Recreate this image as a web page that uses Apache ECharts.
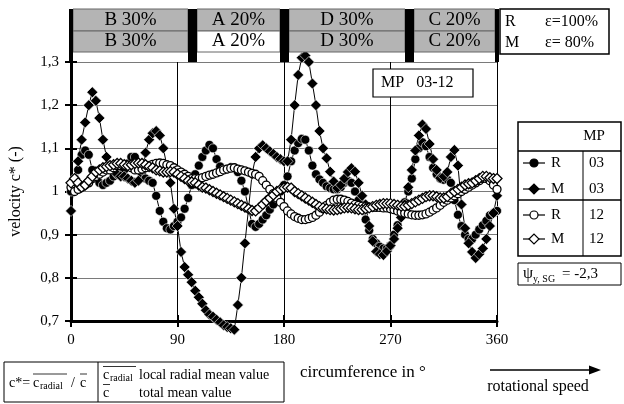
<!DOCTYPE html>
<html>
<head>
<meta charset="utf-8">
<script src="https://cdn.jsdelivr.net/npm/echarts@6/dist/echarts.min.js"></script>
<style>
  html, body { margin: 0; padding: 0; background: #fff; }
  #chart { width: 624px; height: 404px; }
</style>
</head>
<body>
<div id="chart"></div>
<script>
// Measurement positions around the circumference (degrees)
const angles = [
  0, 3, 6, 9, 12, 15, 18, 21, 24, 27,
  30, 33, 36, 39, 42, 45, 48, 51, 54, 57,
  60, 63, 66, 69, 72, 75, 78, 81, 84, 87,
  90, 93, 96, 99, 102, 105, 108, 111, 114, 117,
  120, 123, 126, 129, 132, 135, 138, 141, 144, 147,
  150, 153, 156, 159, 162, 165, 168, 171, 174, 177,
  180, 183, 186, 189, 192, 195, 198, 201, 204, 207,
  210, 213, 216, 219, 222, 225, 228, 231, 234, 237,
  240, 243, 246, 249, 252, 255, 258, 261, 264, 267,
  270, 273, 276, 279, 282, 285, 288, 291, 294, 297,
  300, 303, 306, 309, 312, 315, 318, 321, 324, 327,
  330, 333, 336, 339, 342, 345, 348, 351, 354, 357,
  360
];

// MP 03, R (eps = 100 %)
const r03 = [
  1.0, 1.03, 1.05, 1.085, 1.095, 1.085, 1.05, 1.03, 1.02, 1.015,
  1.02, 1.025, 1.035, 1.04, 1.045, 1.05, 1.065, 1.08, 1.08, 1.06,
  1.04, 1.03, 1.025, 1.02, 0.99, 0.955, 0.93, 0.915, 0.912, 0.92,
  0.93, 0.94, 0.96, 0.985, 1.015, 1.04, 1.06, 1.08, 1.095, 1.108,
  1.1, 1.075, 1.058, 1.05, 1.052, 1.056, 1.055, 1.045, 1.025, 1.0,
  0.96, 0.925, 0.918, 0.925, 0.935, 0.945, 0.958, 0.97, 0.985, 1.0,
  1.015, 1.035, 1.07, 1.095, 1.112, 1.122, 1.12, 1.095, 1.06, 1.04,
  1.028, 1.02, 1.012, 1.008, 1.005, 1.005, 1.01, 1.02, 1.025, 1.02,
  1.0, 0.98, 0.96, 0.935, 0.91, 0.89, 0.88, 0.872, 0.868, 0.868,
  0.875, 0.9, 0.922, 0.945, 0.975, 1.0, 1.03, 1.075, 1.1, 1.114,
  1.105, 1.08, 1.055, 1.04, 1.03, 1.027, 1.028, 1.02, 0.98, 0.946,
  0.92, 0.9, 0.89, 0.89, 0.9, 0.912, 0.922, 0.932, 0.945, 0.95,
  0.955
];

// MP 03, M (eps = 80 %)
const m03 = [
  0.955, 1.02, 1.07, 1.12, 1.16, 1.2, 1.23, 1.21, 1.17, 1.12,
  1.08, 1.06, 1.05, 1.04, 1.035, 1.035, 1.03, 1.025, 1.02, 1.025,
  1.05, 1.09, 1.12, 1.135, 1.14, 1.13, 1.1, 1.06, 1.02, 0.96,
  0.92, 0.86, 0.825, 0.807, 0.79, 0.77, 0.755, 0.74, 0.725, 0.715,
  0.71, 0.703, 0.697, 0.69, 0.686, 0.683, 0.68, 0.737, 0.8, 0.88,
  0.96, 1.04, 1.08, 1.1, 1.107, 1.1, 1.093, 1.087, 1.08, 1.075,
  1.07, 1.07, 1.12, 1.2, 1.27, 1.31, 1.315, 1.3, 1.25, 1.2,
  1.14, 1.1, 1.077, 1.046, 1.023, 1.008, 1.015, 1.03, 1.045, 1.054,
  1.046, 1.02, 0.99, 0.97, 0.92, 0.885, 0.861, 0.855, 0.853, 0.862,
  0.875, 0.89, 0.915, 0.94, 0.97, 1.01, 1.05, 1.095, 1.13, 1.155,
  1.145, 1.11, 1.075, 1.05, 1.031, 1.035, 1.045, 1.08, 1.096, 1.06,
  0.97, 0.915, 0.88, 0.86, 0.846, 0.855, 0.868, 0.89, 0.92, 0.95,
  0.99
];

// MP 12, R (eps = 100 %)
const r12 = [
  1.01, 1.0, 1.005, 1.01, 1.015, 1.02, 1.03, 1.035, 1.04, 1.045,
  1.05, 1.05, 1.055, 1.06, 1.06, 1.06, 1.058, 1.055, 1.05, 1.05,
  1.052, 1.055, 1.06, 1.063, 1.065, 1.066, 1.065, 1.062, 1.06, 1.055,
  1.05, 1.045, 1.04, 1.035, 1.03, 1.03, 1.03, 1.032, 1.035, 1.038,
  1.04, 1.043, 1.046, 1.05, 1.052, 1.054, 1.055, 1.052, 1.05, 1.048,
  1.045, 1.042, 1.04, 1.035, 1.025, 1.015, 1.005, 0.995, 0.985, 0.975,
  0.965, 0.955, 0.948, 0.942, 0.938, 0.935, 0.935, 0.937, 0.94, 0.945,
  0.952, 0.96, 0.968, 0.975, 0.98, 0.982, 0.982, 0.98, 0.977, 0.973,
  0.97, 0.968, 0.966, 0.965, 0.964, 0.963, 0.963, 0.963, 0.962, 0.962,
  0.96, 0.958, 0.955, 0.952, 0.95, 0.948, 0.946, 0.945, 0.945, 0.946,
  0.948, 0.952, 0.957, 0.962, 0.968, 0.975, 0.98, 0.985, 0.99, 0.995,
  1.0, 1.005, 1.01, 1.015, 1.02, 1.025, 1.03, 1.03, 1.025, 1.015,
  1.005
];

// MP 12, M (eps = 80 %)
const m12 = [
  1.02, 1.03, 1.02, 1.01, 1.015, 1.025, 1.035, 1.045, 1.05, 1.055,
  1.058, 1.06, 1.062, 1.065, 1.065, 1.062, 1.06, 1.062, 1.065, 1.066,
  1.065, 1.062, 1.058, 1.055, 1.05, 1.048, 1.045, 1.045, 1.046, 1.045,
  1.04, 1.035, 1.03, 1.025, 1.022, 1.02, 1.015, 1.01, 1.008, 1.004,
  1.0, 0.996, 0.992, 0.988, 0.984, 0.98, 0.976, 0.972, 0.968, 0.964,
  0.96, 0.956, 0.955, 0.962, 0.97, 0.978, 0.985, 0.992, 1.0, 1.005,
  1.008, 1.01, 1.008, 1.0, 0.995, 0.99, 0.985, 0.98, 0.975, 0.97,
  0.965, 0.962, 0.96, 0.958, 0.957, 0.958, 0.96, 0.962, 0.963, 0.962,
  0.96, 0.958, 0.958, 0.96, 0.962, 0.965, 0.968, 0.97, 0.972, 0.972,
  0.972, 0.97, 0.968, 0.966, 0.966, 0.968, 0.972, 0.976, 0.98, 0.984,
  0.988, 0.99, 0.99, 0.988, 0.985, 0.985, 0.988, 0.995, 1.0, 1.005,
  1.01, 1.015, 1.018, 1.02, 1.025, 1.03, 1.035, 1.035, 1.032, 1.03,
  1.03
];

// Blade sector table above the plot
const sectorRow1 = ['B 30%', 'A 20%', 'D 30%', 'C 20%'];
const sectorRow2 = ['B 30%', 'A 20%', 'D 30%', 'C 20%'];

const SERIF = '"Liberation Serif", "Times New Roman", serif';
const chart = echarts.init(document.getElementById('chart'), null, { renderer: 'canvas' });

function fmtTick(v) {
  const r = Math.round(v * 10) / 10;
  return r === 1 ? '1' : r.toFixed(1).replace('.', ',');
}

function makeSeries(name, values, symbol, size, filled) {
  return {
    name: name,
    type: 'line',
    data: angles.map((a, i) => [a, values[i]]),
    symbol: symbol,
    symbolSize: size,
    showSymbol: true,
    showAllSymbol: true,
    clip: false,
    animation: false,
    lineStyle: { color: '#000', width: 1 },
    itemStyle: filled
      ? { color: '#000', borderColor: '#fff', borderWidth: 0.6 }
      : { color: '#fff', borderColor: '#000', borderWidth: 1.3 },
    emphasis: { disabled: true }
  };
}

// ----- decorative graphics -----
const G = [];
function rect(x, y, w, h, fill, stroke, lw) {
  G.push({ type: 'rect', shape: { x: x, y: y, width: w, height: h },
    style: { fill: fill || 'none', stroke: stroke || null, lineWidth: lw || 0 }, z: 100 });
}
function line(x1, y1, x2, y2, lw, color) {
  G.push({ type: 'line', shape: { x1: x1, y1: y1, x2: x2, y2: y2 },
    style: { stroke: color || '#000', lineWidth: lw || 1 }, z: 101 });
}
function text(str, x, y, size, align, valign) {
  G.push({ type: 'text', x: x, y: y, z: 102,
    style: { text: str, font: size + 'px ' + SERIF, fill: '#000',
      textAlign: align || 'left', textVerticalAlign: valign || 'middle' } });
}

// sector table
const cells = [[73, 188], [197, 280], [289, 405], [414, 495]];
cells.forEach((c, i) => {
  rect(c[0], 9, c[1] - c[0], 22, '#b4b4b4', '#666', 1);
  rect(c[0], 31, c[1] - c[0], 21, i === 1 ? '#fff' : '#b4b4b4', '#666', 1);
  text(sectorRow1[i], (c[0] + c[1]) / 2, 20.5, 19, 'center');
  text(sectorRow2[i], (c[0] + c[1]) / 2, 41.5, 19, 'center');
});
// sector separators
[[69, 4], [188, 9], [280, 9], [405, 9], [495, 4]].forEach(b => rect(b[0], 9, b[1], 53, '#000'));

// efficiency box
rect(500, 9, 109, 45, '#fff', '#000', 1.5);
text('R', 505, 22, 16);
text('\u03b5=100%', 545, 22, 16);
text('M', 505, 43, 16);
text('\u03b5= 80%', 545, 43, 16);

// measuring point box
rect(373, 69, 100, 28, '#fff', '#000', 1.2);
text('MP   03-12', 381, 83, 16);

// legend table
rect(518, 122, 103, 134, '#fff', '#000', 1.5);
line(518, 151, 621, 151, 1.5);
line(518, 200, 621, 200, 1.5);
line(583, 151, 583, 256, 1);
text('MP', 594, 136, 15, 'center');
const legendRows = [
  { y: 163, kind: 'circle', filled: true, label: 'R', mp: '03' },
  { y: 189, kind: 'diamond', filled: true, label: 'M', mp: '03' },
  { y: 215, kind: 'circle', filled: false, label: 'R', mp: '12' },
  { y: 239, kind: 'diamond', filled: false, label: 'M', mp: '12' }
];
legendRows.forEach(r => {
  line(523, r.y, 545, r.y, 1.2);
  const fill = r.filled ? '#000' : '#fff';
  if (r.kind === 'circle') {
    G.push({ type: 'circle', shape: { cx: 534, cy: r.y, r: 4 },
      style: { fill: fill, stroke: '#000', lineWidth: 1.2 }, z: 103 });
  } else {
    G.push({ type: 'polygon', shape: { points: [[529, r.y], [534, r.y - 5], [539, r.y], [534, r.y + 5]] },
      style: { fill: fill, stroke: '#000', lineWidth: 1.2 }, z: 103 });
  }
  text(r.label, 551, r.y, 15);
  text(r.mp, 589, r.y, 15);
});

// swirl coefficient box
rect(518, 263, 103, 22, '#fff', '#000', 1);
text('\u03c8', 523, 274, 16);
text('y, SG', 533, 279, 10);
text('= -2,3', 562, 274, 15);

// definition box
rect(4, 362, 280, 40, '#fff', '#000', 1);
line(98, 362, 98, 402, 1);
text('c*=', 9, 383, 14);
text('c', 33, 383, 14);
text('radial', 40, 386, 10);
line(33, 374, 67, 374, 0.8);
text('/', 71, 383, 14);
text('c', 80, 383, 14);
line(80, 374, 87, 374, 0.8);
text('c', 103, 375, 14);
text('radial', 110, 378, 10);
line(103, 366.5, 136, 366.5, 0.8);
text('local radial mean value', 139, 375, 14);
text('c', 103, 393, 14);
line(103, 384.5, 110, 384.5, 0.8);
text('total mean value', 139, 393, 14);

// axis title and rotation direction
text('circumference in \u00b0', 300, 373, 17);
line(490, 370, 592, 370, 1.5);
G.push({ type: 'polygon', shape: { points: [[589, 365.5], [601, 370], [589, 374.5]] },
  style: { fill: '#000' }, z: 103 });
text('rotational speed', 538, 387, 16, 'center');

const option = {
  animation: false,
  backgroundColor: '#fff',
  grid: { left: 71, right: 127, top: 62, bottom: 83, containLabel: false },
  xAxis: [
    {
      type: 'value', min: 0, max: 360, interval: 90,
      axisLine: { show: true, onZero: false, lineStyle: { color: '#000', width: 3 } },
      axisTick: { show: true, length: 6, lineStyle: { color: '#000', width: 2 } },
      axisLabel: { color: '#000', fontFamily: SERIF, fontSize: 15, margin: 12 },
      splitLine: { show: true, lineStyle: { color: '#000', width: 1 } }
    },
    {
      type: 'value', min: 0, max: 360, interval: 90, position: 'bottom',
      axisLine: { show: false },
      axisTick: { show: true, inside: true, length: 6, lineStyle: { color: '#000', width: 2 } },
      axisLabel: { show: false },
      splitLine: { show: false }
    }
  ],
  yAxis: [
    {
      type: 'value', min: 0.7, max: 1.3, interval: 0.1,
      name: 'velocity c* (-)', nameLocation: 'middle', nameGap: 47, nameRotate: 90,
      nameTextStyle: { color: '#000', fontFamily: SERIF, fontSize: 16 },
      axisLine: { show: true, onZero: false, lineStyle: { color: '#000', width: 3 } },
      axisTick: { show: true, length: 6, lineStyle: { color: '#000', width: 2 } },
      axisLabel: { color: '#000', fontFamily: SERIF, fontSize: 15, margin: 12, formatter: fmtTick },
      splitLine: { show: true, lineStyle: { color: '#7a7a7a', width: 1 } }
    },
    {
      type: 'value', min: 0.7, max: 1.3, interval: 0.1, position: 'left',
      axisLine: { show: false },
      axisTick: { show: true, inside: true, length: 6, lineStyle: { color: '#000', width: 2 } },
      axisLabel: { show: false },
      splitLine: { show: false }
    }
  ],
  series: [
    makeSeries('R 03', r03, 'circle', 9, true),
    makeSeries('M 03', m03, 'diamond', 11, true),
    makeSeries('R 12', r12, 'circle', 8, false),
    makeSeries('M 12', m12, 'diamond', 10, false)
  ],
  graphic: G
};

chart.setOption(option);
</script>
</body>
</html>
